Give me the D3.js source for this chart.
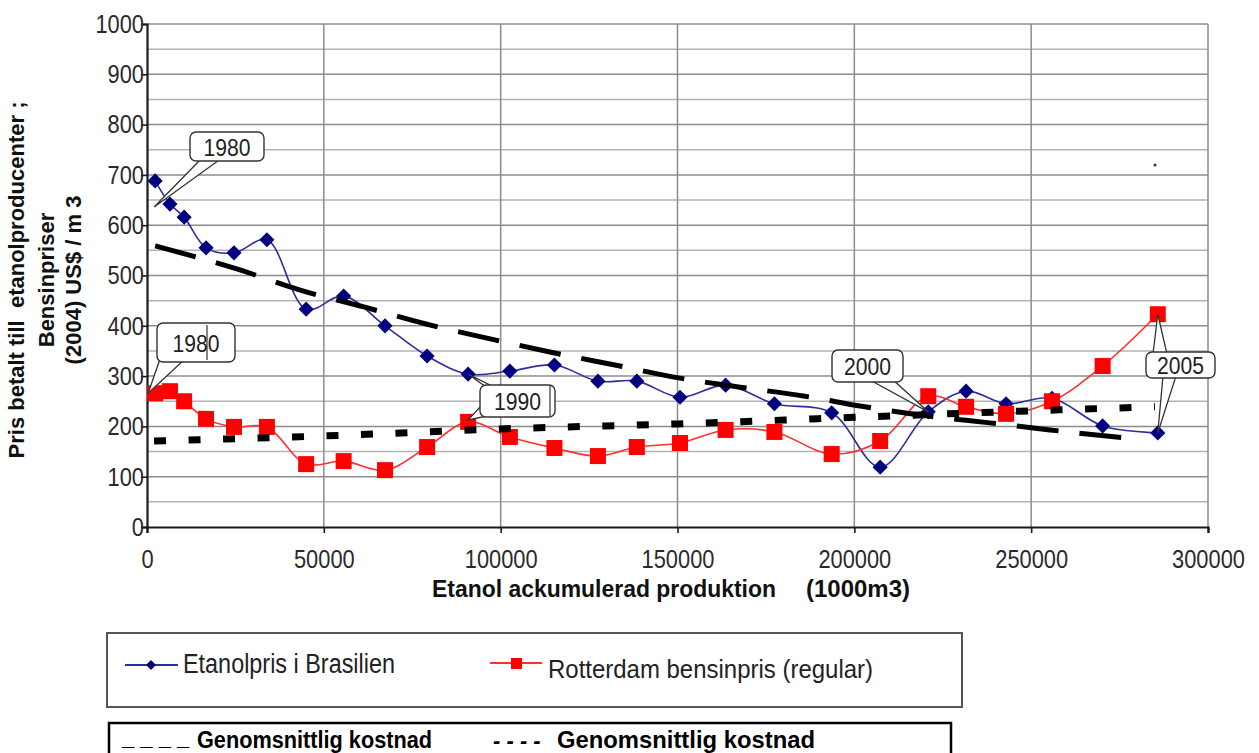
<!DOCTYPE html>
<html><head><meta charset="utf-8">
<script src="https://cdn.jsdelivr.net/npm/d3@7"></script>
<style>
body{margin:0;background:#fff;}
svg{display:block;}
</style></head><body>
<svg id="chart" width="1259" height="753"></svg>
<script>
// ---------------- data ----------------
const years = [1980,1981,1982,1983,1984,1985,1986,1987,1988,1989,1990,1991,1992,1993,1994,1995,1996,1997,1998,1999,2000,2001,2002,2003,2004,2005];
const cumulativeProduction = [2300,6500,10500,16700,24600,33900,45000,55600,67300,79200,90800,102600,115200,127500,138500,150700,163600,177400,193600,207300,220900,231600,242900,255900,270200,285800];
const ethanolPrice = [688,642,616,555,545,571,433,459,400,340,304,310,322,290,290,258,282,245,227,119,229,270,245,256,201,187];
const gasolinePrice = [266,270,250,215,199,199,125,131,113,159,209,179,157,141,159,167,193,189,145,171,260,239,225,250,320,423];

// average cost curves (dashed)
const ethanolCostX = [2300,25400,43300,61600,78600,95800,113900,132300,150700,167700,186000,202100,221400,238300,255300,278000];
const ethanolCostY = [559,513,471,437,404,376,348,322,296,278,260,240,220,207,193,176];
const gasolineCostX = [2000,50000,100000,150000,200000,250000,285000];
const gasolineCostY = [171,181,195,205,218,231,239];

const yTicks = [0,100,200,300,400,500,600,700,800,900,1000];
const yMinorGrid = [50,150,250,350,450,550,650,750,850,950];
const xTicks = [0,50000,100000,150000,200000,250000,300000];

const yTitleLines = ["Pris betalt till  etanolproducenter ;", "Bensinpriser", "(2004) US$ / m 3"];
const xTitleParts = ["Etanol ackumulerad produktion", "(1000m3)"];
const seriesNames = ["Etanolpris i Brasilien", "Rotterdam bensinpris (regular)"];
const costLegendMarks = ["_ _ _ _", "- - - -"];
const costLegendNames = ["Genomsnittlig kostnad", "Genomsnittlig kostnad"];

// ---------------- setup ----------------
const svg = d3.select("#chart");
const SANS = '"Liberation Sans", Arial, sans-serif';
const SX = 0.84; // horizontal condensing for the narrow label font

const x = d3.scaleLinear().domain([0, 300000]).range([147, 1208]);
const y = d3.scaleLinear().domain([0, 1000]).range([527, 24]);

const BLUE_LINE = "#2e2e9e", BLUE_MARK = "#000080";
const RED_LINE = "#ff3030", RED_MARK = "#ff0000";

// gridlines
const grid = svg.append("g");
grid.selectAll(".ymin").data(yMinorGrid).enter().append("line")
  .attr("x1", x(0)).attr("x2", x(300000))
  .attr("y1", d => y(d)).attr("y2", d => y(d))
  .attr("stroke", "#b4b4b4").attr("stroke-width", 1.5);
grid.selectAll(".ymaj").data(yTicks.filter(d => d > 0)).enter().append("line")
  .attr("x1", x(0)).attr("x2", x(300000))
  .attr("y1", d => y(d)).attr("y2", d => y(d))
  .attr("stroke", "#8c8c8c").attr("stroke-width", 1.5);
grid.selectAll(".xg").data(xTicks.filter(d => d > 0)).enter().append("line")
  .attr("x1", d => x(d)).attr("x2", d => x(d))
  .attr("y1", y(0)).attr("y2", y(1000))
  .attr("stroke", "#8c8c8c").attr("stroke-width", 1.5);

// axes
const yAxis = svg.append("g").attr("transform", `translate(${x(0)},0)`)
  .call(d3.axisLeft(y).tickValues(yTicks).tickSize(6).tickPadding(3).tickFormat(d3.format("d")));
const xAxis = svg.append("g").attr("transform", `translate(0,${y(0)})`)
  .call(d3.axisBottom(x).tickValues(xTicks).tickSize(6).tickPadding(17).tickFormat(d3.format("d")));
[yAxis, xAxis].forEach(g => {
  g.select(".domain").attr("stroke", "#1a1a1a").attr("stroke-width", 2.2);
  g.selectAll(".tick line").attr("stroke", "#1a1a1a").attr("stroke-width", 1.6);
  g.selectAll("text").attr("font-family", SANS).attr("font-size", 26).attr("fill", "#2a2a2a")
    .attr("transform", `scale(${SX},1)`);
});
yAxis.selectAll("text").attr("x", -3 / SX);
xAxis.selectAll("text").attr("dy", "0.71em");

// axis titles
const yt = svg.append("g").attr("transform", "translate(0,280) rotate(-90)");
const yTitleX = [24, 54, 81];
yTitleLines.forEach((t, i) => {
  yt.append("text").attr("x", 0).attr("y", yTitleX[i]).attr("text-anchor", "middle")
    .attr("font-family", SANS).attr("font-weight", "bold").attr("font-size", 22)
    .attr("fill", "#111").style("white-space", "pre").text(t);
});
svg.append("text").attr("x", 432).attr("y", 597).attr("font-family", SANS).attr("font-weight", "bold")
  .attr("font-size", 23).attr("fill", "#111").attr("textLength", 344).attr("lengthAdjust", "spacingAndGlyphs")
  .text(xTitleParts[0]);
svg.append("text").attr("x", 806).attr("y", 597).attr("font-family", SANS).attr("font-weight", "bold")
  .attr("font-size", 23).attr("fill", "#111").attr("textLength", 104).attr("lengthAdjust", "spacingAndGlyphs")
  .text(xTitleParts[1]);

// series
const pts = (ys) => cumulativeProduction.map((c, i) => [c, ys[i]]);
const smooth = d3.line().x(d => x(d[0])).y(d => y(d[1])).curve(d3.curveCatmullRom.alpha(0.5));
const ethPts = pts(ethanolPrice), gasPts = pts(gasolinePrice);

svg.append("path").attr("d", smooth(ethPts)).attr("fill", "none").attr("stroke", BLUE_LINE).attr("stroke-width", 1.6);
svg.selectAll(".eth").data(ethPts).enter().append("path")
  .attr("d", d3.symbol().type(d3.symbolSquare).size(115))
  .attr("transform", d => `translate(${x(d[0])},${y(d[1])}) rotate(45)`)
  .attr("fill", BLUE_MARK);

svg.append("path").attr("d", smooth(gasPts)).attr("fill", "none").attr("stroke", RED_LINE).attr("stroke-width", 1.6);
svg.selectAll(".gas").data(gasPts).enter().append("rect")
  .attr("x", d => x(d[0]) - 8).attr("y", d => y(d[1]) - 8)
  .attr("width", 16).attr("height", 16).attr("fill", RED_MARK);

// average cost curves
const costLine = d3.line().x(d => x(d[0])).y(d => y(d[1])).curve(d3.curveMonotoneX);
svg.append("path").attr("d", costLine(ethanolCostX.map((c, i) => [c, ethanolCostY[i]])))
  .attr("fill", "none").attr("stroke", "#000").attr("stroke-width", 5)
  .attr("stroke-dasharray", "42 21");
svg.append("path").attr("d", costLine(gasolineCostX.map((c, i) => [c, gasolineCostY[i]])))
  .attr("fill", "none").attr("stroke", "#000").attr("stroke-width", 7)
  .attr("stroke-dasharray", "12 22.5");

// callouts
const idx = yr => years.indexOf(yr);
function callout(label, box, bases, tip, extraLines) {
  const g = svg.append("g");
  g.append("path")
    .attr("d", `M${bases[0][0]},${bases[0][1]} L${tip[0]},${tip[1]} L${bases[1][0]},${bases[1][1]} Z`)
    .attr("fill", "#fff").attr("stroke", "#333").attr("stroke-width", 1.3);
  (extraLines || []).forEach(l => {
    g.append("path").attr("d", `M${l[0][0]},${l[0][1]} L${l[1][0]},${l[1][1]} L${l[2][0]},${l[2][1]} Z`)
      .attr("fill", "#fff").attr("stroke", "#333").attr("stroke-width", 1.3);
  });
  g.append("rect").attr("x", box[0]).attr("y", box[1]).attr("width", box[2]).attr("height", box[3])
    .attr("rx", 6).attr("fill", "#fff").attr("stroke", "#333").attr("stroke-width", 1.4);
  g.append("text").attr("x", box[0] + box[2] / 2).attr("y", box[1] + box[3] / 2 + 9)
    .attr("text-anchor", "middle").attr("font-family", SANS).attr("font-size", 24)
    .attr("textLength", 47).attr("lengthAdjust", "spacingAndGlyphs")
    .attr("fill", "#222").text(label);
  return g;
}
// 1980 ethanol
{
  const i = idx(1980);
  const tx = x(cumulativeProduction[i]), ty = y(ethanolPrice[i]);
  callout("1980", [190, 132, 74, 29], [[202, 158], [222, 158]], [tx - 1, ty + 26]);
}
// 1980 gasoline
{
  const i = idx(1980);
  const tx = x(cumulativeProduction[i]), ty = y(gasolinePrice[i]);
  const g = callout("1980", [157, 323, 78, 39], [[160, 359], [185, 359]], [tx - 7, ty]);
  g.append("line").attr("x1", 207).attr("x2", 207).attr("y1", 325).attr("y2", 360).attr("stroke", "#333").attr("stroke-width", 1.2);
}
// 1990
{
  const i = idx(1990);
  const tx = x(cumulativeProduction[i]), ty = y(gasolinePrice[i]);
  const bx = x(cumulativeProduction[i]), by = y(ethanolPrice[i]);
  const g = callout("1990", [480, 385, 75, 32], [[482, 405], [492, 415]], [tx, ty - 2],
    [[[bx, by], [486, 387], [494, 387]]]);
  g.append("line").attr("x1", 550).attr("x2", 550).attr("y1", 386).attr("y2", 416).attr("stroke", "#333").attr("stroke-width", 1.2);
}
// 2000
{
  const i = idx(2000);
  const tx = x(cumulativeProduction[i]), ty = y(ethanolPrice[i]);
  callout("2000", [832, 350, 71, 32], [[870, 380], [893, 380]], [tx, ty]);
}
// 2005
{
  const i = idx(2005);
  const rx = x(cumulativeProduction[i]), ry = y(gasolinePrice[i]);
  const bx = x(cumulativeProduction[i]), by = y(ethanolPrice[i]);
  callout("2005", [1146, 352, 69, 26], [[1153, 354], [1167, 354]], [rx, ry],
    [[[1163, 376], [bx, by], [1176, 376]]]);
}
// stray mark in original
svg.append("circle").attr("cx", 1155).attr("cy", 165).attr("r", 1.5).attr("fill", "#333");

// legend 1
const lg = svg.append("g");
lg.append("rect").attr("x", 107).attr("y", 633).attr("width", 855).attr("height", 74)
  .attr("fill", "#fff").attr("stroke", "#555").attr("stroke-width", 2);
lg.append("line").attr("x1", 125).attr("x2", 178).attr("y1", 665).attr("y2", 665).attr("stroke", BLUE_LINE).attr("stroke-width", 2);
lg.append("path").attr("d", d3.symbol().type(d3.symbolSquare).size(50)).attr("transform", "translate(151,665) rotate(45)").attr("fill", BLUE_MARK);
lg.append("text").attr("x", 183).attr("y", 673).attr("font-family", SANS).attr("font-size", 27).attr("fill", "#222")
  .attr("textLength", 212).attr("lengthAdjust", "spacingAndGlyphs").text(seriesNames[0]);
lg.append("line").attr("x1", 490).attr("x2", 542).attr("y1", 663).attr("y2", 663).attr("stroke", RED_LINE).attr("stroke-width", 2);
lg.append("rect").attr("x", 511).attr("y", 658).attr("width", 11).attr("height", 11).attr("fill", RED_MARK);
lg.append("text").attr("x", 548).attr("y", 678).attr("font-family", SANS).attr("font-size", 26).attr("fill", "#222")
  .attr("textLength", 325).attr("lengthAdjust", "spacingAndGlyphs").text(seriesNames[1]);

// legend 2
const lg2 = svg.append("g");
lg2.append("rect").attr("x", 109).attr("y", 723).attr("width", 842).attr("height", 45)
  .attr("fill", "#fff").attr("stroke", "#000").attr("stroke-width", 2.5);
lg2.append("text").attr("x", 122).attr("y", 745).attr("font-family", SANS).attr("font-weight", "bold").attr("font-size", 22).attr("fill", "#000").text(costLegendMarks[0]);
lg2.append("text").attr("x", 197).attr("y", 748).attr("font-family", SANS).attr("font-weight", "bold").attr("font-size", 23).attr("fill", "#000")
  .attr("textLength", 235).attr("lengthAdjust", "spacingAndGlyphs").text(costLegendNames[0]);
lg2.append("text").attr("x", 493).attr("y", 748).attr("font-family", SANS).attr("font-weight", "bold").attr("font-style", "italic").attr("font-size", 22).attr("fill", "#000").text(costLegendMarks[1]);
lg2.append("text").attr("x", 557).attr("y", 748).attr("font-family", SANS).attr("font-weight", "bold").attr("font-size", 24).attr("fill", "#000")
  .attr("textLength", 258).attr("lengthAdjust", "spacingAndGlyphs").text(costLegendNames[1]);
</script>
</body></html>
